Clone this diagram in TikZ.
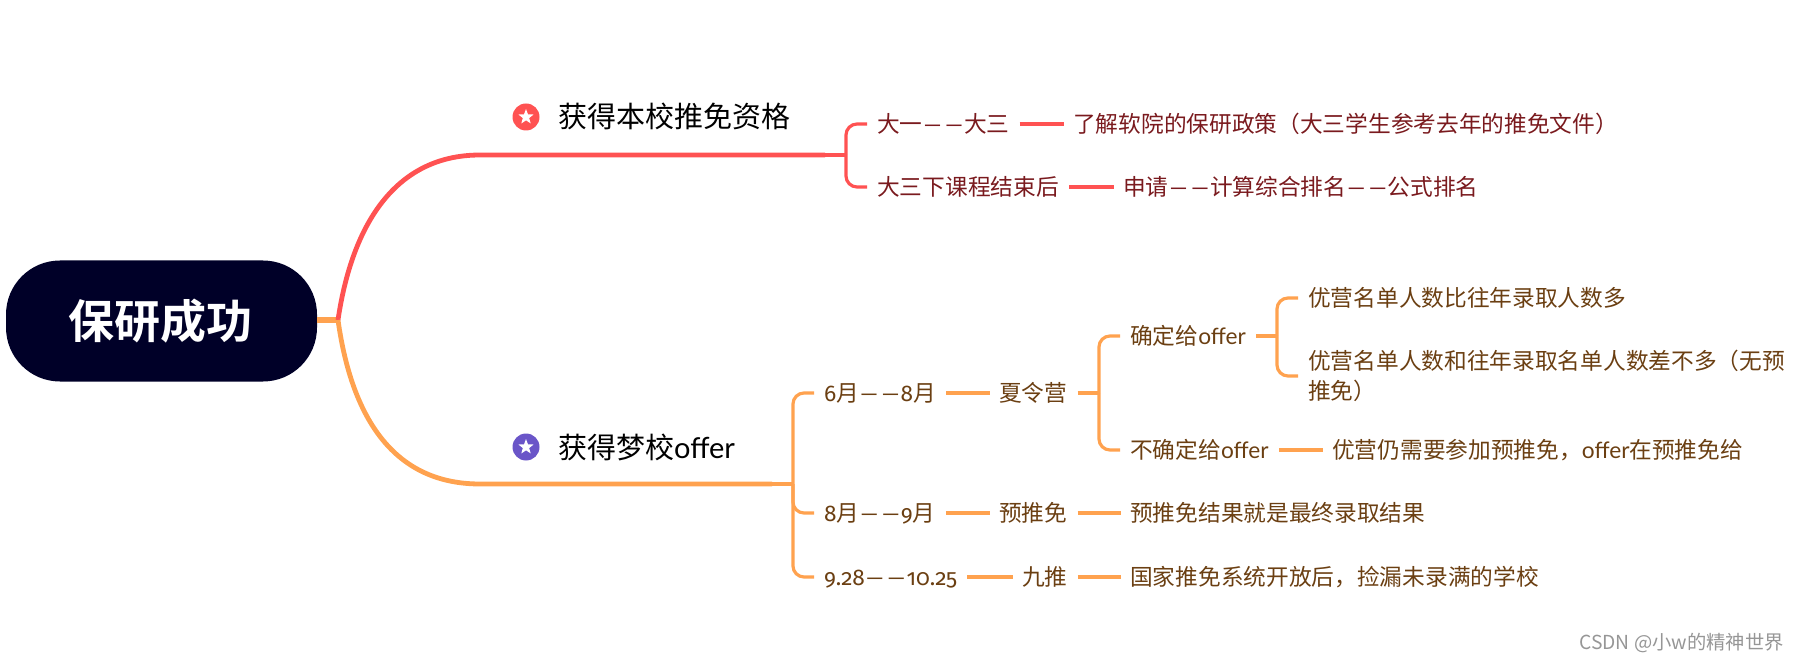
\documentclass[tikz,border=0pt]{standalone}
\usepackage{fontspec}
\usetikzlibrary{shapes.geometric}
\setmainfont{Lato}
\newfontfamily\cn{Noto Sans CJK SC}
\newfontfamily\cnb{Noto Sans CJK SC Bold}
\newfontfamily\lat{Lato}
\newfontfamily\num[Numbers=OldStyle]{Fira Sans}
\newcommand{\dd}{{\lat\kern1pt—\kern3.5pt—\kern1pt}}
\definecolor{rl}{HTML}{FF5252}
\definecolor{ol}{HTML}{FFA24F}
\definecolor{rt}{HTML}{7A1A1E}
\definecolor{ot}{HTML}{6B3F12}
\definecolor{rootc}{HTML}{000028}
\definecolor{pur}{HTML}{6A55C8}
\definecolor{wmc}{HTML}{969696}
\tikzset{
  rtxt/.style={anchor=west,inner sep=0pt,text=rt,text height=21pt,text depth=4pt,font=\cn\fontsize{22.7}{30}\selectfont},
  otxt/.style={anchor=west,inner sep=0pt,text=ot,text height=21pt,text depth=4pt,font=\cn\fontsize{22.7}{30}\selectfont},
  head/.style={anchor=west,inner sep=0pt,text=black,text height=28pt,text depth=6pt,font=\cn\fontsize{29}{34}\selectfont},
  rlink/.style={draw=rl,line width=3.2pt},
  olink/.style={draw=ol,line width=3.2pt},
  gapped/.style={shorten <=10pt,shorten >=9pt},
  brr/.style={rlink,rounded corners=11pt,shorten >=10pt},
  bro/.style={olink,rounded corners=11pt,shorten >=10pt},
  badge/.style={circle,inner sep=0pt,minimum size=27pt},
  starw/.style={star,star points=5,star point ratio=2.4,fill=white,inner sep=0pt,minimum size=16pt},
}
\begin{document}
\begin{tikzpicture}[x=1pt,y=-1pt]
\useasboundingbox (0,0) rectangle (1797,660);
% anchors
\coordinate (fork) at (338,320);
\coordinate (hubR) at (846,155);
\coordinate (endR) at (825,155);
\coordinate (hubO) at (793,484);
\coordinate (endO) at (772,484);
\coordinate (hubS) at (1099,393);
\coordinate (hubC) at (1277,336);
% root
\node[fill=rootc,text=white,rectangle,rounded corners=54pt,minimum width=311pt,minimum height=121pt,inner sep=0pt,font=\cnb\fontsize{46}{50}\selectfont] (root) at (161.5,321) {\raisebox{2pt}{\kern-3pt 保研成功}};
% headings
\node[badge,fill=rl] (i1) at (526,117) {};
\node[starw] (s1) at (i1) {};
\node[head] (h1) at (558,117) {获得本校推免资格};
\node[badge,fill=pur] (i2) at (526,447) {};
\node[starw] (s2) at (i2) {};
\node[head] (h2) at (558,447) {获得梦校{\lat offer}};
% red branch
\node[rtxt] (r1) at (877,124) {大一\dd 大三};
\node[rtxt] (r1b) at (1073,124) {了解软院的保研政策（大三学生参考去年的推免文件）};
\node[rtxt] (r2) at (877,187) {大三下课程结束后};
\node[rtxt] (r2b) at (1123,187) {申请\dd 计算综合排名\dd 公式排名};
% orange branch
\node[otxt] (a1) at (824,393) {{\num 6}月\dd{\num 8}月};
\node[otxt] (a2) at (999,393) {夏令营};
\node[otxt] (c1) at (1130,336) {确定给{\lat offer}};
\node[otxt] (c1a) at (1308,298) {优营名单人数比往年录取人数多};
\node[otxt,align=left,text height=,text depth=] (c1b) at (1308,376) {优营名单人数和往年录取名单人数差不多（无预\\推免）};
\node[otxt] (c2) at (1130,450) {不确定给{\lat offer}};
\node[otxt] (c2a) at (1332,450) {优营仍需要参加预推免，{\lat offer}在预推免给};
\node[otxt] (b1) at (824,513) {{\num 8}月\dd{\num 9}月};
\node[otxt] (b2) at (999,513) {预推免};
\node[otxt] (b3) at (1130,513) {预推免结果就是最终录取结果};
\node[otxt] (d1) at (824,577) {{\num 9.28}\dd{\num 10.25}};
\node[otxt] (d2) at (1022,577) {九推};
\node[otxt] (d3) at (1130,577) {国家推免系统开放后，捡漏未录满的学校};
% watermark
\node[anchor=west,inner sep=0pt,text=wmc,font=\cn\fontsize{19.3}{24}\selectfont] (wm) at (1579,643) {CSDN @小w的精神世界};
% main curves
\draw[draw=ol,line width=6pt] (root.east |- fork) -- (fork);
\draw[draw=rl,line width=4.8pt] (fork) .. controls (352,225) and (395,155) .. (480,155) -- (endR);
\draw[rlink] (endR) -- (hubR);
\draw[draw=ol,line width=4.8pt] (fork) .. controls (352,420) and (395,484) .. (480,484) -- (endO);
\draw[olink] (endO) -- (hubO);
% red links
\draw[brr] (hubR) |- (r1.west);
\draw[brr] (hubR) |- (r2.west);
\draw[rlink,gapped] (r1) -- (r1b);
\draw[rlink,line width=4pt,gapped] (r2) -- (r2b);
% orange links
\draw[bro] (hubO) |- (a1.west);
\draw[bro] (hubO) |- (b1.west);
\draw[bro] (hubO) |- (d1.west);
\draw[olink,gapped] (a1) -- (a2);
\draw[olink,gapped,shorten >=0pt] (a2.east) -- (hubS);
\draw[bro] (hubS) |- (c1.west);
\draw[bro] (hubS) |- (c2.west);
\draw[olink,gapped,shorten >=0pt] (c1.east) -- (hubC);
\draw[bro] (hubC) |- (c1a.west);
\draw[bro] (hubC) |- (c1b.west);
\draw[olink,gapped] (c2) -- (c2a);
\draw[olink,gapped] (b1) -- (b2);
\draw[olink,gapped] (b2) -- (b3);
\draw[olink,gapped] (d1) -- (d2);
\draw[olink,gapped] (d2) -- (d3);
\end{tikzpicture}
\end{document}
